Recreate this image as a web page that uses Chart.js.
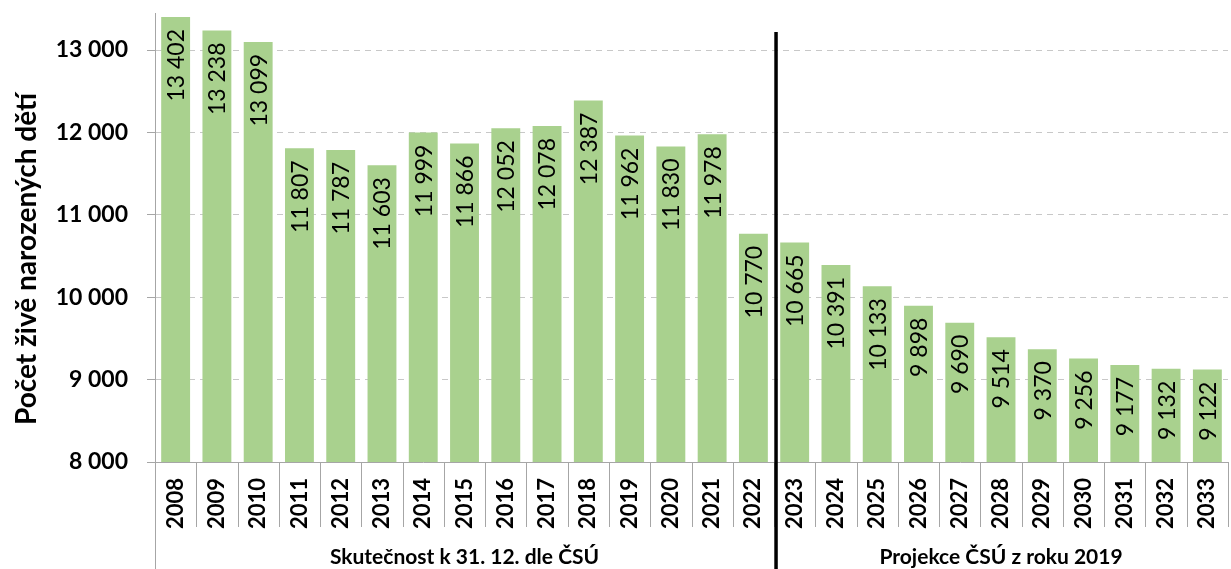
<!DOCTYPE html>
<html>
<head>
<meta charset="utf-8">
<script src="https://cdn.jsdelivr.net/npm/chart.js@4/dist/chart.umd.min.js"></script>
<style>
  html, body { margin: 0; padding: 0; background: #fff; }
  #wrap { width: 1231px; height: 569px; position: relative; }
</style>
</head>
<body>
<div id="wrap"><canvas id="chart"></canvas></div>
<script>
const years = ["2008", "2009", "2010", "2011", "2012", "2013", "2014", "2015", "2016", "2017", "2018", "2019", "2020", "2021", "2022",
  "2023", "2024", "2025", "2026", "2027", "2028", "2029", "2030", "2031", "2032", "2033"];
const births = [13402, 13238, 13099, 11807, 11787, 11603, 11999, 11866, 12052, 12078, 12387, 11962, 11830, 11978, 10770,
  10665, 10391, 10133, 9898, 9690, 9514, 9370, 9256, 9177, 9132, 9122];
const yTicks = [8000, 9000, 10000, 11000, 12000, 13000];
const groups = [
  { label: "Skutečnost k 31. 12. dle ČSÚ", from: 0, to: 14 },
  { label: "Projekce ČSÚ z roku 2019", from: 15, to: 25 }
];
const yTitle = "Počet živě narozených dětí";

const FONT = "Lato, 'Open Sans', sans-serif";
const fmt = (v) => String(v).replace(/\B(?=(\d{3})+(?!\d))/g, " ");

// labels inside bars, category separators, group captions, divider line, y title
const extras = {
  id: "extras",
  afterDatasetsDraw(chart) {
    const ctx = chart.ctx;
    const meta = chart.getDatasetMeta(0);
    ctx.save();
    ctx.fillStyle = "#000";
    ctx.font = "23px " + FONT;
    ctx.textAlign = "right";
    ctx.textBaseline = "middle";
    meta.data.forEach((bar, i) => {
      ctx.save();
      ctx.translate(bar.x, bar.y + 12);
      ctx.rotate(-Math.PI / 2);
      ctx.fillText(fmt(births[i]), 0, 1);
      ctx.restore();
    });
    ctx.restore();
  },
  afterDraw(chart) {
    const ctx = chart.ctx;
    const x = chart.scales.x;
    const area = chart.chartArea;
    const H = chart.height;
    const half = (x.getPixelForValue(1) - x.getPixelForValue(0)) / 2;
    ctx.save();
    ctx.strokeStyle = "#a6a6a6";
    ctx.lineWidth = 1;
    // left axis continues down through the label area
    ctx.beginPath();
    ctx.moveTo(area.left + 0.5, area.bottom);
    ctx.lineTo(area.left + 0.5, H);
    ctx.stroke();
    // separators between year labels
    ctx.beginPath();
    for (let i = 1; i <= years.length; i++) {
      const sx = Math.round(x.getPixelForValue(i) - half) + 0.5;
      ctx.moveTo(sx, area.bottom);
      ctx.lineTo(sx, area.bottom + 65);
    }
    ctx.stroke();
    // divider between actual and projected
    const dx = x.getPixelForValue(groups[1].from) - half + 2;
    ctx.strokeStyle = "#000";
    ctx.lineWidth = 3.5;
    ctx.beginPath();
    ctx.moveTo(dx, 32);
    ctx.lineTo(dx, H);
    ctx.stroke();
    // group captions
    ctx.fillStyle = "#000";
    ctx.font = "bold 21px " + FONT;
    ctx.textAlign = "center";
    ctx.textBaseline = "middle";
    groups.forEach((g) => {
      const cx = (x.getPixelForValue(g.from) + x.getPixelForValue(g.to)) / 2;
      ctx.fillText(g.label, cx, 557);
    });
    // y title
    ctx.font = "bold 28px " + FONT;
    ctx.translate(27, 259);
    ctx.rotate(-Math.PI / 2);
    ctx.fillText(yTitle, 0, 0);
    ctx.restore();
  }
};

new Chart(document.getElementById("chart"), {
  type: "bar",
  data: {
    labels: years,
    datasets: [{
      data: births,
      backgroundColor: "#a9d18e",
      barPercentage: 0.7,
      categoryPercentage: 1
    }]
  },
  options: {
    responsive: true,
    maintainAspectRatio: false,
    animation: false,
    layout: { padding: { top: 13, right: 3, left: 0, bottom: 0 } },
    plugins: { legend: { display: false }, tooltip: { enabled: false } },
    scales: {
      x: {
        grid: { display: false, drawTicks: false },
        border: { display: true, color: "#a6a6a6" },
        ticks: {
          autoSkip: false,
          maxRotation: 90,
          minRotation: 90,
          padding: 16,
          color: "#000",
          font: { family: FONT, size: 22, weight: "bold" }
        },
        afterFit(scale) {
          scale.height = 107;
          scale.paddingLeft = 0;
          scale.paddingRight = 0;
        }
      },
      y: {
        min: 8000,
        max: 13450,
        afterBuildTicks(scale) { scale.ticks = yTicks.map((v) => ({ value: v })); },
        afterFit(scale) {
          scale.width = 155;
          scale.paddingTop = 0;
          scale.paddingBottom = 0;
        },
        grid: {
          color: (c) => (c.tick && c.tick.value === 8000 ? "rgba(0,0,0,0)" : "#c8c8c8"),
          tickBorderDash: [],
          tickColor: "#a6a6a6",
          tickLength: 8
        },
        border: { color: "#a6a6a6", dash: [6, 5] },
        ticks: {
          padding: 19,
          color: "#000",
          font: { family: FONT, size: 23, weight: "bold" },
          callback: (v) => fmt(v)
        }
      }
    }
  },
  plugins: [extras]
});
</script>
</body>
</html>
